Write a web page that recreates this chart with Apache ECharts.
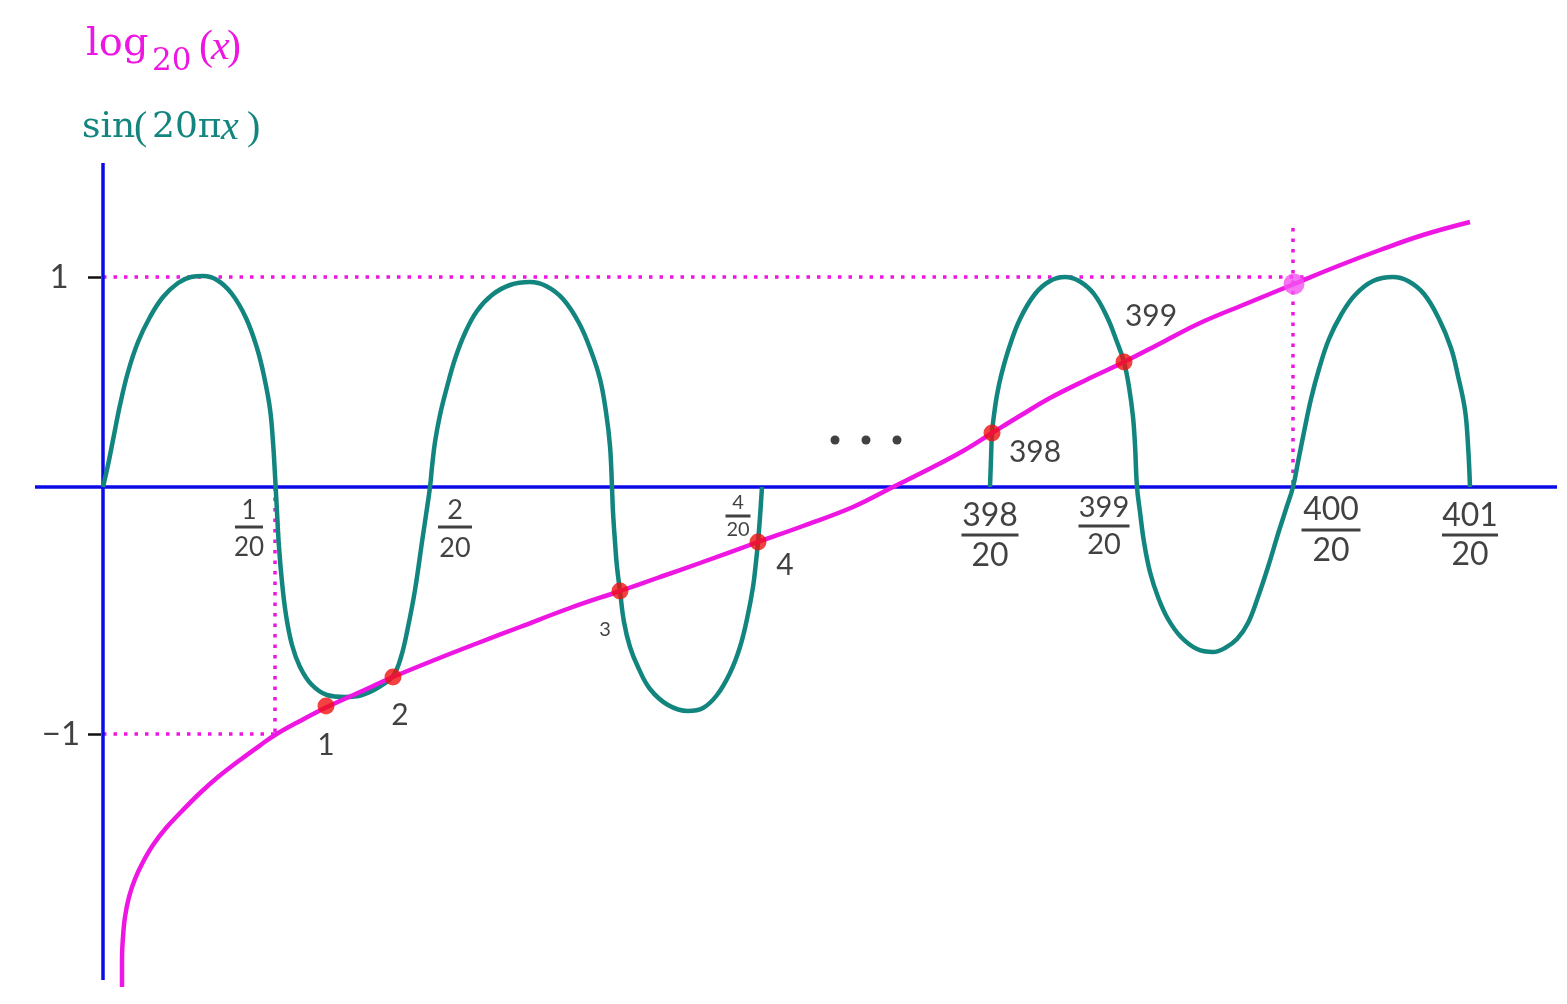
<!DOCTYPE html>
<html><head><meta charset="utf-8">
<script src="https://cdn.jsdelivr.net/npm/echarts@6/dist/echarts.min.js"></script>
<style>html,body{margin:0;padding:0;background:#fff}#c{width:1567px;height:1004px}</style>
</head><body><div id="c"></div>
<script>
// Schematic units: origin where the axes cross, 1 unit ≈ 1 px of the drawing, y up.
const sinArcA = [[0,0],[5,22],[10,47],[17,82],[25,115],[35,145],[47,170],[60,190],[75,204],[88,210],[100,211],
  [114,207],[129,193],[143,169],[154,139],[161,111],[167,78],[170,45],[172,12],
  [174,-25],[176,-60],[179,-95],[183,-128],[189,-158],[197,-180],[208,-197],[224,-208],[242,-210],
  [259,-208],[276,-200],[290,-189],[298,-170],[305,-140],[312,-103],[319,-55],[323,-28],[327,0],
  [329,20],[332,45],[337,72],[344,100],[352,128],[362,154],[374,176],[389,192],[407,202],[427,205],
  [443,201],[460,188],[476,164],[488,136],[497,108],[503,75],[507,41],[509,0],
  [510,-25],[512,-55],[514,-80],[517,-104],[521,-135],[527,-160],[535,-180],[547,-202],[565,-218],[585,-224],
  [600,-221],[614,-208],[627,-186],[637,-160],[644,-132],[650,-100],[653,-75],[655,-55],[657,-30],[659,0]];
const sinArcB = [[887,0],[888,28],[889,54],[891,72],[894,92],[898,111],[906,139],[917,168],[932,193],[947,206],[962,210],
  [976,206],[991,193],[1005,168],[1014,145],[1021,125],[1026,100],[1030,70],[1032,42],[1034,0],
  [1037,-25],[1041,-55],[1047,-85],[1055,-110],[1065,-132],[1078,-150],[1094,-162],[1110,-165],
  [1122,-161],[1134,-152],[1145,-136],[1155,-110],[1165,-80],[1175,-47],[1183,-22],[1190,0],
  [1195,25],[1201,55],[1208,88],[1216,118],[1226,148],[1238,172],[1252,192],[1270,206],[1290,210],
  [1305,206],[1321,193],[1336,168],[1348,139],[1355,111],[1362,77],[1365,42],[1367,0]];
const logCurve = [[19,-500],[19,-473],[20,-450],[22,-430],[26,-410],[32,-392],[40,-375],[50,-358],[63,-341],[79,-324],
  [97,-306],[115,-290],[137,-273],[159,-257],[172,-248],[197,-234],[224,-220],[257,-205],[290,-190],[334,-172],
  [375,-156],[417,-140],[467,-121],[517,-104],[557,-90],[597,-76],[655,-55],[700,-39],[750,-20],[790,0],[830,20],
  [860,36],[889,54],[920,73],[947,89],[985,108],[1021,125],[1060,145],[1097,164],[1140,182],[1191,203],[1235,221],
  [1277,237],[1320,252],[1367,265]];
const intersections = [[223,-219],[290,-190],[517,-104],[655,-55],[889,54],[1021,125]];
const intersectionLabels = ['1','2','3','4','398','399'];
const specialPoint = [[1191,203]];
const ellipsisDots = [[732,47],[763,47],[794,47]];
const tickX = [146,352,635,887,1001,1228,1367];
const tickNum = ['1','2','4','398','399','400','401'];
const tickDen = ['20','20','20','20','20','20','20'];
const yTickValues = [210,-247];
const yTickLabels = ['1','\u22121'];
const levelOne = 210, levelMinusOne = -247, xAtOne = 1191, xFirstZero = 172;
const xAxisExtent = [-68,1454], yAxisExtent = [324,-493];

const BLUE = '#0b0be8', TEAL = '#12857f', MAGENTA = '#ee16e2', RED = '#ee1111', PINK = '#f552f2';
const labelFont = 'Lato';

// styling per fraction label: font size, bar / numerator / denominator pixel rows, bar width
const fracStyle = [
  {fs:26, bar:527, nc:511, dc:548, w:28},
  {fs:27, bar:527, nc:510, dc:548, w:34},
  {fs:20, bar:516, nc:503, dc:530, w:25},
  {fs:32, bar:535, nc:516, dc:556, w:57},
  {fs:29, bar:526, nc:508, dc:545, w:51},
  {fs:32, bar:530, nc:510, dc:551, w:59},
  {fs:32, bar:535, nc:516, dc:555, w:56}];
const ptLabelStyle = [
  {fs:30, off:[0,39]},{fs:30, off:[7,38]},{fs:20, off:[-15,39]},{fs:30, off:[27,23]},
  {fs:30, off:[43,19]},{fs:30, off:[27,-46]}];

const chart = echarts.init(document.getElementById('c'));
const dotted = {color: MAGENTA, width: 3.5, type: [3.5, 7], opacity: 1};

const SERIF = '"DejaVu Serif"', TIMES = '"Liberation Serif"';
chart.setOption({
  backgroundColor: '#ffffff',
  animation: false,
  grid: {left: 0, right: 0, top: 0, bottom: 0},
  xAxis: {type: 'value', min: -103, max: 1464, show: false},
  yAxis: {type: 'value', min: -517, max: 487, show: false},
  graphic: [
    {type:'text', left: 86, top: 25, style:{text:'log', font:'40px ' + SERIF, fill: MAGENTA}},
    {type:'text', left: 152, top: 46, style:{text:'20', font:'31px ' + SERIF, fill: MAGENTA}},
    {type:'text', left: 199, top: 27, style:{text:'(', font:'42px ' + TIMES, fill: MAGENTA}},
    {type:'text', left: 211, top: 27, style:{text:'x', font:'italic 42px ' + TIMES, fill: MAGENTA}},
    {type:'text', left: 227, top: 27, style:{text:')', font:'42px ' + TIMES, fill: MAGENTA}},
    {type:'text', left: 82, top: 110, style:{text:'sin', font:'36px ' + SERIF, fill: TEAL}},
    {type:'text', left: 134, top: 108, style:{text:'(', font:'40px ' + TIMES, fill: TEAL}},
    {type:'text', left: 152, top: 110, style:{text:'20\u03c0', font:'36px ' + SERIF, fill: TEAL}},
    {type:'text', left: 221, top: 108, style:{text:'x', font:'italic 40px ' + TIMES, fill: TEAL}},
    {type:'text', left: 247, top: 108, style:{text:')', font:'40px ' + TIMES, fill: TEAL}}
  ],
  series: [
    {type:'lines', coordinateSystem:'cartesian2d', polyline:false, silent:true, z:1,
     lineStyle: dotted,
     data: [
       {coords: [[0, levelOne], [xAtOne + 14, levelOne]]},
       {coords: [[xAtOne - 1, levelOne + 49], [xAtOne - 1, 0]]},
       {coords: [[0, levelMinusOne], [xFirstZero, levelMinusOne]]},
       {coords: [[xFirstZero, 0], [xFirstZero, levelMinusOne]]}
     ]},
    {type:'lines', coordinateSystem:'cartesian2d', polyline:false, silent:true, z:3,
     lineStyle:{color: BLUE, width: 3.5, opacity: 1},
     data: [{coords: [[xAxisExtent[0],0],[xAxisExtent[1],0]]}, {coords: [[0,yAxisExtent[0]],[0,yAxisExtent[1]]]}]},
    {type:'lines', coordinateSystem:'cartesian2d', polyline:false, silent:true, z:3,
     lineStyle:{color:'#111', width: 2.5, opacity: 1},
     data: yTickValues.map(v => ({coords: [[-15, v], [-2, v]]}))},
    {type:'line', data: sinArcA, smooth: 0.4, showSymbol:false, z:4, lineStyle:{color: TEAL, width: 4.5}},
    {type:'line', data: sinArcB, smooth: 0.4, showSymbol:false, z:4, lineStyle:{color: TEAL, width: 4.5}},
    {type:'line', data: logCurve, smooth: 0.4, showSymbol:false, z:5, lineStyle:{color: MAGENTA, width: 4.5}},
    {type:'scatter', z:6, symbolSize: 17, itemStyle:{color: RED},
     data: intersections.map((p, i) => ({value: p, label: {show: true, position: 'inside', formatter: intersectionLabels[i],
        offset: ptLabelStyle[i].off, fontSize: ptLabelStyle[i].fs, fontFamily: labelFont, color:'#111'}}))},
    {type:'scatter', z:6, symbolSize: 21, itemStyle:{color: PINK}, data: specialPoint},
    {type:'scatter', z:6, symbolSize: 9, itemStyle:{color:'#111'}, data: ellipsisDots},
    {type:'scatter', z:7, symbolSize: 0, silent: true,
     data: tickX.map((x, i) => {
       const s = fracStyle[i];
       const nLH = 2 * (s.bar - s.nc) - 3, dLH = 2 * (s.dc - s.bar) - 3;
       const dy = (s.bar - 487) + (dLH - nLH) / 2;
       return {value: [x, 0], label: {show: true, position: 'inside', offset: [0, dy],
         formatter: '{n|' + tickNum[i] + '}\n{b|}\n{d|' + tickDen[i] + '}',
         rich: {
           n: {fontSize: s.fs, fontFamily: labelFont, color:'#111', lineHeight: nLH, align:'center'},
           b: {width: s.w, height: 3, lineHeight: 3, backgroundColor:'#111', align:'center'},
           d: {fontSize: s.fs, fontFamily: labelFont, color:'#111', lineHeight: dLH, align:'center'}
         }}};
     })},
    {type:'scatter', z:7, symbolSize: 0, silent: true,
     data: yTickValues.map((v, i) => ({value: [i === 0 ? -44 : -42, v], label: {show: true, position:'inside',
        formatter: yTickLabels[i], fontSize: 33, fontFamily: labelFont, color:'#111'}}))}
  ]
});
</script></body></html>
